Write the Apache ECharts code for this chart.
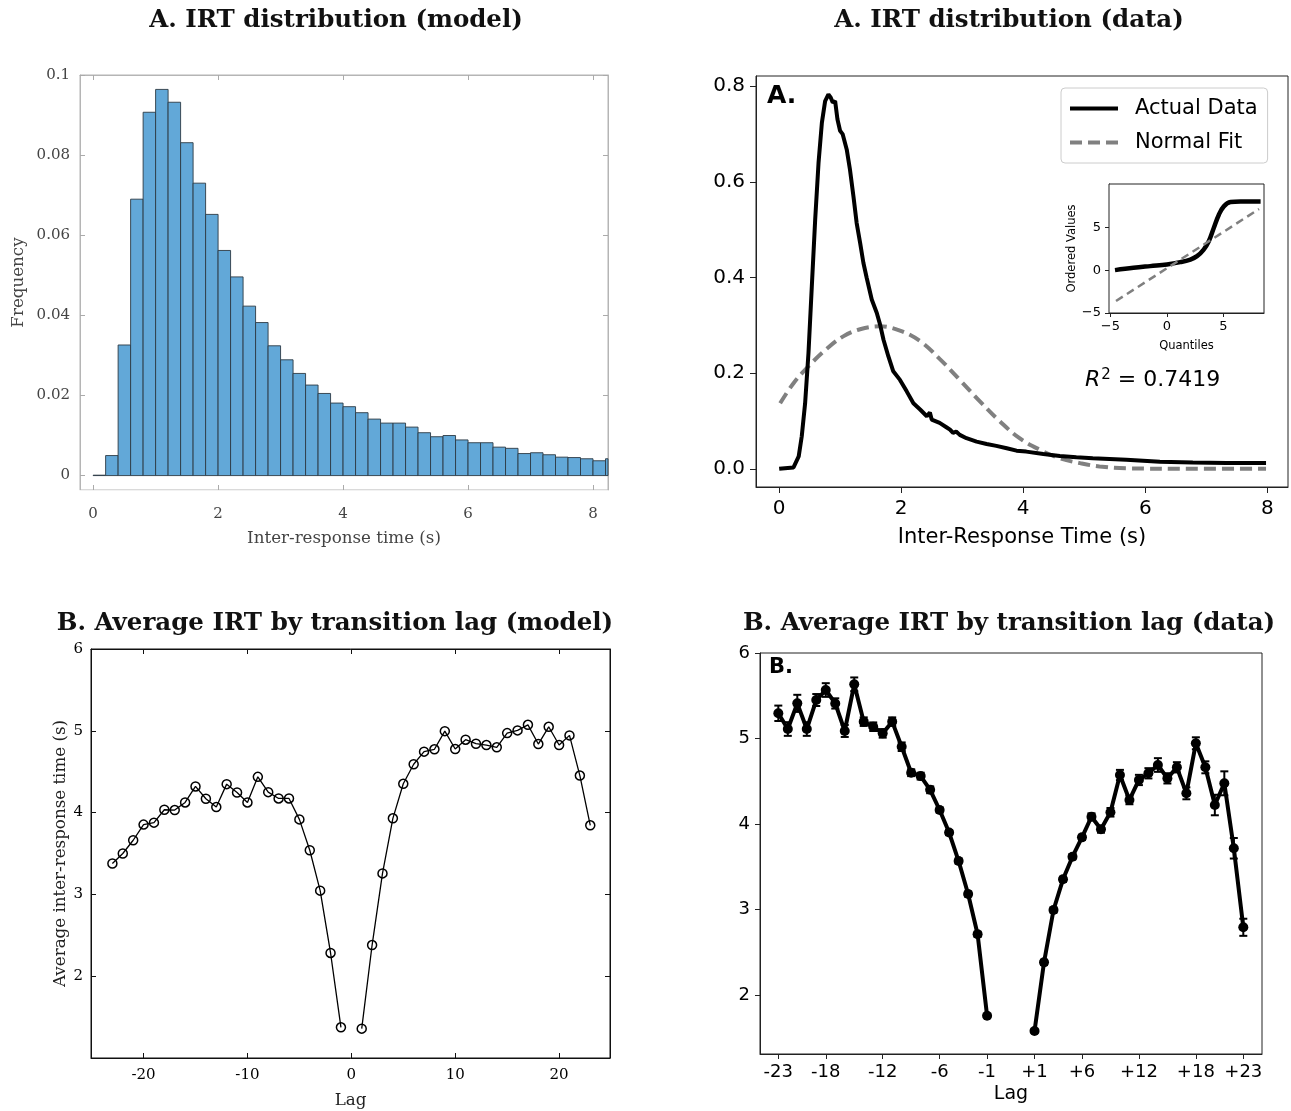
<!DOCTYPE html>
<html>
<head>
<meta charset="utf-8">
<script src="https://cdn.jsdelivr.net/npm/echarts@6.0.0/dist/echarts.min.js"></script>
<style>
  html, body { margin: 0; padding: 0; background: #fff; }
  #main { width: 1291px; height: 1111px; }
</style>
</head>
<body>
<div id="main"></div>
<script>
// ---- data ----
// A (model): histogram, bins of 0.2 s starting at 0
var binWidth = 0.2;
var modelFreq = [0.0001, 0.0050, 0.0326, 0.0690, 0.0907, 0.0964, 0.0932, 0.0831, 0.0730, 0.0652,
                 0.0562, 0.0496, 0.0423, 0.0382, 0.0324, 0.0289, 0.0255, 0.0226, 0.0205, 0.0181,
                 0.0172, 0.0157, 0.0141, 0.0131, 0.0131, 0.0121, 0.0107, 0.0097, 0.0100, 0.0089,
                 0.0082, 0.0082, 0.0071, 0.0068, 0.0055, 0.0057, 0.0052, 0.0046, 0.0045, 0.0042,
                 0.0037, 0.0042];

// A (data): density curve and normal fit
var irtX = [0, 0.235, 0.32, 0.37, 0.425, 0.48, 0.535, 0.59, 0.645, 0.70, 0.753, 0.807, 0.846, 0.878,
            0.917, 0.955, 0.998, 1.04, 1.107, 1.16, 1.217, 1.27, 1.326, 1.38, 1.435, 1.517, 1.60,
            1.653, 1.71, 1.79, 1.87, 1.98, 2.09, 2.20, 2.31, 2.42, 2.47, 2.50, 2.63, 2.74, 2.80,
            2.85, 2.90, 2.96, 3.07, 3.235, 3.40, 3.56, 3.73, 3.89, 4.05, 4.33, 4.60, 4.87, 5.14,
            5.69, 6.24, 6.78, 7.33, 7.98];
var irtY = [0, 0.003, 0.026, 0.068, 0.137, 0.242, 0.382, 0.521, 0.640, 0.724, 0.769, 0.783, 0.776,
            0.766, 0.769, 0.731, 0.707, 0.700, 0.668, 0.626, 0.570, 0.514, 0.473, 0.431, 0.399,
            0.354, 0.326, 0.302, 0.270, 0.235, 0.204, 0.186, 0.162, 0.137, 0.124, 0.110, 0.118,
            0.103, 0.096, 0.087, 0.082, 0.075, 0.078, 0.071, 0.064, 0.057, 0.052, 0.048, 0.043,
            0.038, 0.036, 0.031, 0.027, 0.024, 0.022, 0.019, 0.015, 0.013, 0.012, 0.012];
var fitX = [0.016, 0.235, 0.507, 0.78, 1.05, 1.326, 1.65, 1.98, 2.31, 2.63, 2.96, 3.29, 3.62, 3.94,
            4.27, 4.60, 4.93, 5.25, 5.69, 6.78, 7.98];
var fitY = [0.137, 0.179, 0.218, 0.251, 0.277, 0.292, 0.298, 0.289, 0.267, 0.230, 0.186, 0.141,
            0.099, 0.064, 0.040, 0.022, 0.012, 0.005, 0.001, 0, 0];

// inset: QQ plot
var qqX = [-4.59, -2.96, -1.48, 0, 1.18, 2.07, 2.66, 3.25, 3.70, 4.14, 4.59, 5.03, 5.62, 6.51, 8.28];
var qqY = [0, 0.27, 0.47, 0.66, 0.93, 1.24, 1.63, 2.40, 3.37, 4.92, 6.47, 7.44, 7.95, 8.02, 8.02];
var qqFitX = [-4.5, 0, 8.14];
var qqFitY = [-3.6, 0.22, 7.13];
var r2Text = '0.7419';

// B: average IRT by lag
var lags = [-23, -22, -21, -20, -19, -18, -17, -16, -15, -14, -13, -12, -11, -10, -9, -8, -7, -6, -5, -4, -3, -2, -1,
            1, 2, 3, 4, 5, 6, 7, 8, 9, 10, 11, 12, 13, 14, 15, 16, 17, 18, 19, 20, 21, 22, 23];
var modelIrt = [3.378, 3.50, 3.662, 3.853, 3.877, 4.035, 4.031, 4.124, 4.32, 4.169, 4.068, 4.348, 4.246,
                4.124, 4.437, 4.25, 4.173, 4.173, 3.917, 3.54, 3.046, 2.284, 1.375,
                1.359, 2.381, 3.257, 3.93, 4.352, 4.591, 4.745, 4.774, 4.996, 4.777, 4.891, 4.842,
                4.826, 4.798, 4.972, 5.005, 5.073, 4.838, 5.049, 4.826, 4.944, 4.453, 3.845];
var dataIrt = [5.295, 5.111, 5.411, 5.111, 5.45, 5.567, 5.41, 5.088, 5.634, 5.197, 5.138, 5.06, 5.197,
               4.904, 4.60, 4.56, 4.40, 4.164, 3.90, 3.567, 3.181, 2.71, 1.758,
               1.579, 2.382, 2.994, 3.353, 3.618, 3.844, 4.085, 3.938, 4.137, 4.573, 4.281, 4.515,
               4.593, 4.69, 4.534, 4.663, 4.359, 4.944, 4.663, 4.222, 4.476, 3.716, 2.792];
var dataErr = [0.09, 0.08, 0.10, 0.08, 0.07, 0.08, 0.06, 0.07, 0.08, 0.05, 0.05, 0.05, 0.05, 0.05, 0.04,
               0.04, 0.04, 0.03, 0.03, 0.03, 0.03, 0.03, 0.02,
               0.02, 0.03, 0.03, 0.03, 0.03, 0.03, 0.04, 0.04, 0.05, 0.06, 0.05, 0.06, 0.06, 0.08,
               0.06, 0.06, 0.07, 0.07, 0.07, 0.12, 0.14, 0.12, 0.10];
var dataTickLags = [-23, -18, -12, -6, -1, 1, 6, 12, 18, 23];
var dataTickLabels = ['-23', '-18', '-12', '-6', '-1', '+1', '+6', '+12', '+18', '+23'];

var SANS = "'DejaVu Sans', sans-serif";
var SERIF = "'DejaVu Serif', serif";

// positions on the data panel: lag 0 is left out with a wider gap
function lagPos(l) { return l < 0 ? l + 23 : l + 26; }

function pairs(xs, ys) { return xs.map(function (x, i) { return [x, ys[i]]; }); }
function withGap(xs, ys) {
    var out = [];
    xs.forEach(function (x, i) {
        if (i > 0 && lags[i - 1] < 0 && lags[i] > 0) out.push([(xs[i - 1] + x) / 2, '-']);
        out.push([x, ys[i]]);
    });
    return out;
}

function axis(o) {
    return {
        type: 'value', gridIndex: o.grid, position: o.pos, min: o.min, max: o.max,
        name: o.name || '', nameLocation: 'middle', nameGap: o.nameGap || 0, nameRotate: o.rot,
        nameTextStyle: o.nameStyle,
        axisLine: { show: true, onZero: false, lineStyle: { color: o.lineColor || '#000', width: 1 } },
        axisTick: { show: !!o.ticks, inside: !!o.inside, length: o.tickLen || 5, customValues: o.ticks,
                    lineStyle: { color: o.tickColor || '#000', width: 1 } },
        axisLabel: { show: !!o.labels, customValues: o.ticks, formatter: o.fmt, margin: o.margin,
                     color: o.labelColor || '#000', fontFamily: o.font, fontSize: o.fontSize },
        splitLine: { show: false }
    };
}

var chart = echarts.init(document.getElementById('main'));

var titleStyle = { fontFamily: SERIF, fontWeight: 'bold', fontSize: 24.5, color: '#111' };

var option = {
    animation: false,
    backgroundColor: '#fff',
    title: [
        { text: 'A. IRT distribution (model)', left: 331, top: 3, textAlign: 'center', textStyle: titleStyle },
        { text: 'A. IRT distribution (data)', left: 1004, top: 3, textAlign: 'center', textStyle: titleStyle },
        { text: 'B. Average IRT by transition lag (model)', left: 330, top: 606, textAlign: 'center', textStyle: titleStyle },
        { text: 'B. Average IRT by transition lag (data)', left: 1004, top: 606, textAlign: 'center', textStyle: titleStyle }
    ],
    legend: {
        left: 1061, top: 88, orient: 'vertical',
        data: ['Actual Data', 'Normal Fit'],
        itemWidth: 48, itemHeight: 14, itemGap: 13,
        padding: [10, 10, 10, 7],
        borderColor: '#cccccc', borderWidth: 1, borderRadius: 4, backgroundColor: '#fff',
        itemStyle: { color: 'rgba(0,0,0,0)', borderWidth: 0, opacity: 0 },
        lineStyle: { width: 4 },
        textStyle: { fontFamily: SANS, fontSize: 21, color: '#000', padding: [0, 0, 0, 12] }
    },
    grid: [
        { left: 80, top: 75, width: 528, height: 415, show: true, borderColor: '#b5b5b5', borderWidth: 1 },
        { left: 756, top: 76, width: 532, height: 411, show: true, borderColor: '#222', borderWidth: 1 },
        { left: 1109, top: 184, width: 155, height: 129, show: true, borderColor: '#222', borderWidth: 1,
          backgroundColor: '#fff', z: 3 },
        { left: 91, top: 649, width: 519, height: 409, show: true, borderColor: '#111', borderWidth: 1 },
        { left: 760, top: 653, width: 502, height: 401, show: true, borderColor: '#222', borderWidth: 1 }
    ],
    xAxis: [
        // 0: model histogram, 1: its top mirror
        axis({ grid: 0, pos: 'bottom', min: -0.21, max: 8.24, ticks: [0, 2, 4, 6, 8], labels: true, inside: true,
               lineColor: '#f2f2f2', tickColor: '#aaa', labelColor: '#444', font: SERIF, fontSize: 15, margin: 17,
               name: 'Inter-response time (s)', nameGap: 40,
               nameStyle: { fontFamily: SERIF, fontSize: 16.7, color: '#444' } }),
        axis({ grid: 0, pos: 'top', min: -0.21, max: 8.24, ticks: [0, 2, 4, 6, 8], inside: true,
               lineColor: '#b5b5b5', tickColor: '#aaa' }),
        // 2: data density
        axis({ grid: 1, pos: 'bottom', min: -0.38, max: 8.34, ticks: [0, 2, 4, 6, 8], labels: true, tickLen: 6,
               lineColor: '#222', tickColor: '#222', font: SANS, fontSize: 20, margin: 12,
               name: 'Inter-Response Time (s)', nameGap: 40,
               nameStyle: { fontFamily: SANS, fontSize: 21, color: '#000' } }),
        // 3: inset
        axis({ grid: 2, pos: 'bottom', min: -5.12, max: 8.58, ticks: [-5, 0, 5], labels: true, tickLen: 4,
               lineColor: '#222', tickColor: '#222', font: SANS, fontSize: 13, margin: 7,
               fmt: function (v) { return String(v).replace('-', '\u2212'); },
               name: 'Quantiles', nameGap: 27, nameStyle: { fontFamily: SANS, fontSize: 11.5, color: '#000' } }),
        // 4: model lag, 5: its top mirror
        axis({ grid: 3, pos: 'bottom', min: -25.06, max: 24.9, ticks: [-20, -10, 0, 10, 20], labels: true,
               inside: true, lineColor: '#111', tickColor: '#111', font: SERIF, fontSize: 15, margin: 10,
               name: 'Lag', nameGap: 34, nameStyle: { fontFamily: SERIF, fontSize: 16.7, color: '#222' } }),
        axis({ grid: 3, pos: 'top', min: -25.06, max: 24.9, ticks: [-20, -10, 0, 10, 20], inside: true,
               lineColor: '#111', tickColor: '#111' }),
        // 6: data lag
        axis({ grid: 4, pos: 'bottom', min: -1.93, max: 50.97, ticks: dataTickLags.map(lagPos), labels: true,
               tickLen: 5, lineColor: '#222', tickColor: '#222', font: SANS, fontSize: 18, margin: 9,
               fmt: function (v) { return dataTickLabels[dataTickLags.map(lagPos).indexOf(v)]; },
               name: 'Lag', nameGap: 31, nameStyle: { fontFamily: SANS, fontSize: 19, color: '#000' } })
    ],
    yAxis: [
        axis({ grid: 0, pos: 'left', min: -0.0036, max: 0.1, ticks: [0, 0.02, 0.04, 0.06, 0.08, 0.1], labels: true,
               inside: true, lineColor: '#b5b5b5', tickColor: '#aaa', labelColor: '#444', font: SERIF, fontSize: 15,
               margin: 10, fmt: function (v) { return String(parseFloat(v.toFixed(2))); },
               name: 'Frequency', nameGap: 53, rot: 90,
               nameStyle: { fontFamily: SERIF, fontSize: 16.7, color: '#444' } }),
        axis({ grid: 0, pos: 'right', min: -0.0036, max: 0.1, ticks: [0, 0.02, 0.04, 0.06, 0.08, 0.1],
               inside: true, lineColor: '#b5b5b5', tickColor: '#aaa' }),
        axis({ grid: 1, pos: 'left', min: -0.038, max: 0.8215, ticks: [0, 0.2, 0.4, 0.6, 0.8], labels: true,
               tickLen: 6, lineColor: '#222', tickColor: '#222', font: SANS, fontSize: 20, margin: 11,
               fmt: function (v) { return v.toFixed(1); } }),
        axis({ grid: 2, pos: 'left', min: -5, max: 10.05, ticks: [-5, 0, 5], labels: true, tickLen: 4,
               lineColor: '#222', tickColor: '#222', font: SANS, fontSize: 13, margin: 8,
               fmt: function (v) { return String(v).replace('-', '\u2212'); },
               name: 'Ordered Values', nameGap: 29, rot: 90,
               nameStyle: { fontFamily: SANS, fontSize: 11.5, color: '#000' } }),
        axis({ grid: 3, pos: 'left', min: 1, max: 6, ticks: [2, 3, 4, 5, 6], labels: true, inside: true,
               lineColor: '#111', tickColor: '#111', font: SERIF, fontSize: 15, margin: 8,
               name: 'Average inter-response time (s)', nameGap: 22, rot: 90,
               nameStyle: { fontFamily: SERIF, fontSize: 16.7, color: '#222' } }),
        axis({ grid: 3, pos: 'right', min: 1, max: 6, ticks: [2, 3, 4, 5], inside: true,
               lineColor: '#111', tickColor: '#111' }),
        axis({ grid: 4, pos: 'left', min: 1.31, max: 6, ticks: [2, 3, 4, 5, 6], labels: true, tickLen: 5,
               lineColor: '#222', tickColor: '#222', font: SANS, fontSize: 18, margin: 10 })
    ],
    graphic: [
        { type: 'text', left: 767, top: 84, z: 10,
          style: { text: 'A.', font: 'bold 25px ' + SANS, fill: '#000' } },
        { type: 'text', left: 769, top: 657, z: 10,
          style: { text: 'B.', font: 'bold 21px ' + SANS, fill: '#000' } },
        { type: 'text', left: 1085, top: 368, z: 10,
          style: {
              text: '{i|R}{s|2}{n| = ' + r2Text + '}',
              rich: {
                  i: { fontFamily: SANS, fontStyle: 'italic', fontSize: 22, fill: '#000', verticalAlign: 'bottom' },
                  s: { fontFamily: SANS, fontSize: 15, fill: '#000', verticalAlign: 'top', padding: [0, 0, 8, 1] },
                  n: { fontFamily: SANS, fontSize: 22, fill: '#000', verticalAlign: 'bottom' }
              }
          } }
    ],
    series: [
        {
            type: 'custom', name: 'Model IRT', xAxisIndex: 0, yAxisIndex: 0,
            data: modelFreq.map(function (f, i) { return [i * binWidth, (i + 1) * binWidth, f]; }),
            encode: { x: [0, 1], y: 2 },
            renderItem: function (params, api) {
                var p0 = api.coord([api.value(0), api.value(2)]);
                var p1 = api.coord([api.value(1), 0]);
                var cs = params.coordSys;
                var rect = echarts.graphic.clipRectByRect(
                    { x: p0[0], y: p0[1], width: p1[0] - p0[0], height: p1[1] - p0[1] },
                    { x: cs.x, y: cs.y, width: cs.width, height: cs.height });
                return rect && {
                    type: 'rect', shape: rect,
                    style: { fill: '#62a8d8', stroke: '#2c3a44', lineWidth: 0.9 }
                };
            }
        },
        {
            type: 'line', name: 'Actual Data', xAxisIndex: 2, yAxisIndex: 2,
            data: pairs(irtX, irtY), showSymbol: false, symbol: 'none',
            lineStyle: { color: '#000', width: 4 }, itemStyle: { color: '#000' }, z: 4
        },
        {
            type: 'line', name: 'Normal Fit', xAxisIndex: 2, yAxisIndex: 2,
            data: pairs(fitX, fitY), showSymbol: false, symbol: 'none', smooth: 0.4,
            lineStyle: { color: '#808080', width: 4, type: [12, 6] }, itemStyle: { color: '#808080' }, z: 3
        },
        {
            type: 'line', name: 'QQ data', xAxisIndex: 3, yAxisIndex: 3,
            data: pairs(qqX, qqY), showSymbol: false, symbol: 'none', smooth: 0.4,
            lineStyle: { color: '#000', width: 4.5 }, z: 6
        },
        {
            type: 'line', name: 'QQ fit', xAxisIndex: 3, yAxisIndex: 3,
            data: pairs(qqFitX, qqFitY), showSymbol: false, symbol: 'none',
            lineStyle: { color: '#808080', width: 2.5, type: [8, 5] }, z: 7
        },
        {
            type: 'line', name: 'Model lag', xAxisIndex: 4, yAxisIndex: 4,
            data: withGap(lags, modelIrt), symbol: 'circle', symbolSize: 9,
            itemStyle: { color: 'rgba(0,0,0,0)', borderColor: '#000', borderWidth: 1.5 },
            lineStyle: { color: '#000', width: 1.3 }
        },
        {
            type: 'line', name: 'Data lag', xAxisIndex: 6, yAxisIndex: 6,
            data: withGap(lags.map(lagPos), dataIrt), symbol: 'circle', symbolSize: 10,
            itemStyle: { color: '#000' }, lineStyle: { color: '#000', width: 4 }, z: 4
        },
        {
            type: 'custom', name: 'Data lag error', xAxisIndex: 6, yAxisIndex: 6,
            data: lags.map(function (l, i) { return [lagPos(l), dataIrt[i] - dataErr[i], dataIrt[i] + dataErr[i]]; }),
            encode: { x: 0, y: [1, 2] }, z: 5,
            renderItem: function (params, api) {
                var a = api.coord([api.value(0), api.value(2)]);
                var b = api.coord([api.value(0), api.value(1)]);
                var hw = 4;
                var st = { stroke: '#000', lineWidth: 2 };
                return {
                    type: 'group', children: [
                        { type: 'line', shape: { x1: a[0], y1: a[1], x2: b[0], y2: b[1] }, style: st },
                        { type: 'line', shape: { x1: a[0] - hw, y1: a[1], x2: a[0] + hw, y2: a[1] }, style: st },
                        { type: 'line', shape: { x1: b[0] - hw, y1: b[1], x2: b[0] + hw, y2: b[1] }, style: st }
                    ]
                };
            }
        }
    ]
};

option && chart.setOption(option);
</script>
</body>
</html>
